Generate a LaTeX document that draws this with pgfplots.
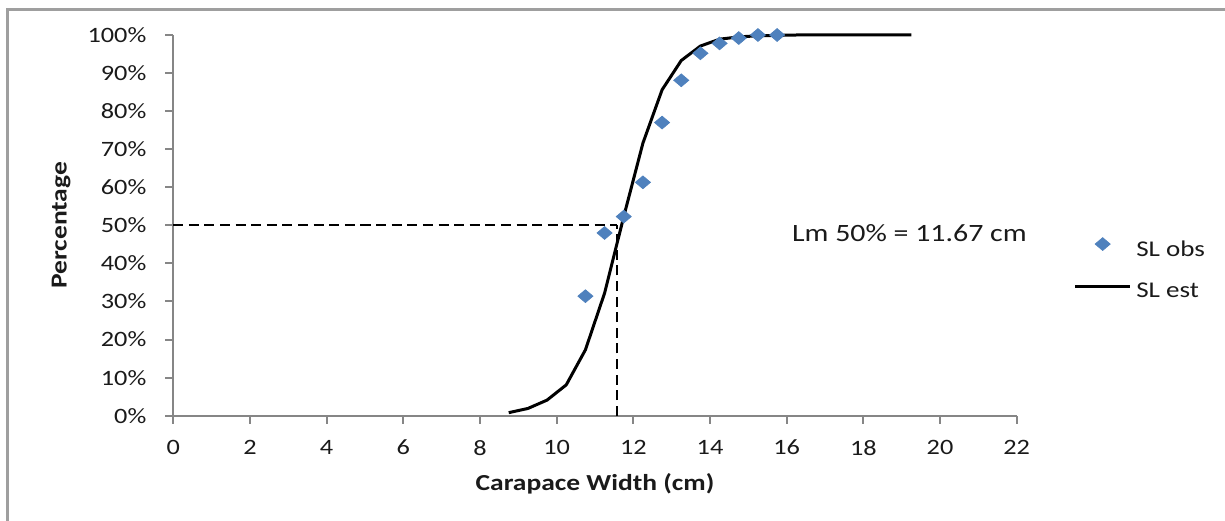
\documentclass[border=0pt]{standalone}
\usepackage{pgfplots}
\pgfplotsset{compat=1.18}
\usepackage{fontspec}
\setmainfont{Carlito}[FakeStretch=1.2]
\definecolor{obsblue}{HTML}{4F81BD}
\definecolor{axgray}{HTML}{868686}
\definecolor{txt}{HTML}{1A1A1A}
\pgfplotsset{
  obsleg/.style={legend image code/.code={\draw[##1] plot coordinates {(13.75bp,3.3bp)};}},
  estleg/.style={legend image code/.code={\draw[##1] (0bp,2.85bp) -- (27.5bp,2.85bp);}},
}
\begin{document}
\begin{tikzpicture}
\useasboundingbox (-86.65bp,-52.65bp) rectangle (525.85bp,207.85bp);
\draw[gray!75, line width=1.3bp] (-83.0bp,-60bp) -- (-83.0bp,203.2bp) -- (540bp,203.2bp);
\begin{axis}[
  at={(0,0)}, anchor=south west,
  scale only axis, width=421.7bp, height=190.35bp,
  xmin=0, xmax=22, ymin=0, ymax=100,
  clip=false,
  axis lines=left, axis line style={-, axgray, line width=1.2bp},
  xtick={0,2,...,22}, ytick={0,10,...,100},
  tick align=outside, major tick length=4bp,
  tick style={axgray, line width=1bp},
  /pgf/number format/assume math mode=true,
  yticklabel={\pgfmathprintnumber{\tick}\%},
  xticklabel style={font=\fontsize{11}{13}\selectfont, text=txt, anchor=north, inner sep=0pt, yshift=-8bp},
  yticklabel style={font=\fontsize{11}{13}\selectfont, text=txt, anchor=east, inner sep=0pt, xshift=-9.3bp},
  xlabel={\textbf{Carapace Width (cm)}},
  ylabel={\textbf{Percentage}},
  xlabel style={at={(axis description cs:0.5,0)}, anchor=base, yshift=-37.2bp, inner sep=0pt, font=\fontsize{11.5}{13}\selectfont, text=txt},
  ylabel style={at={(axis description cs:0,0.5)}, anchor=base, yshift=53.3bp, inner sep=0pt, font=\fontsize{11.5}{13}\selectfont, text=txt},
  legend style={at={(1.0671,0.4686)}, anchor=north west, draw=none, fill=none, inner sep=0pt,
    row sep=10.35bp, font=\fontsize{11.3}{13}\selectfont, text=txt,
    nodes={inner sep=0pt, text height=8bp, text depth=2.5bp},
    /tikz/every odd column/.append style={column sep=2.3bp}},
  legend cell align=left,
]
% reference dashed lines
\addplot[black, line width=1bp, dash pattern=on 5bp off 2.8bp, forget plot] coordinates {(0,50) (11.57,50)};
\addplot[black, line width=1bp, dash pattern=on 5bp off 2.8bp, forget plot] coordinates {(11.57,0) (11.57,50)};
% estimated curve
\addplot[black, line width=1.5bp, forget plot] coordinates {
(8.75,0.8) (9.25,1.9) (9.75,4.1) (10.25,8.1) (10.75,17.3) (11.25,32.2) (11.75,52.3)
(12.25,71.6) (12.75,85.6) (13.25,93.3) (13.75,97.1) (14.25,98.9) (14.75,99.5)
(15.25,99.8) (15.75,99.9) (16.25,100) (16.75,100) (17.25,100) (17.75,100)
(18.25,100) (18.75,100) (19.25,100)};
% observed
\addplot[only marks, mark=diamond*, mark size=3.18bp, mark options={xscale=1.57, draw=obsblue, fill=obsblue}, forget plot] coordinates {
(10.75,31.4) (11.25,48.0) (11.75,52.3) (12.25,61.3) (12.75,77.0) (13.25,88.1)
(13.75,95.2) (14.25,97.8) (14.75,99.2) (15.25,100) (15.75,100)};
\node[anchor=base west, inner sep=0pt, font=\fontsize{12.5}{15}\selectfont, text=txt] at (axis cs:16.13,45.7) {Lm 50\% = 11.67 cm};
\addlegendimage{only marks, mark=diamond*, mark size=3.18bp, mark options={xscale=1.57, draw=obsblue, fill=obsblue}, obsleg}
\addlegendentry{SL obs}
\addlegendimage{black, line width=1.5bp, estleg}
\addlegendentry{SL est}
\end{axis}
\end{tikzpicture}
\end{document}
